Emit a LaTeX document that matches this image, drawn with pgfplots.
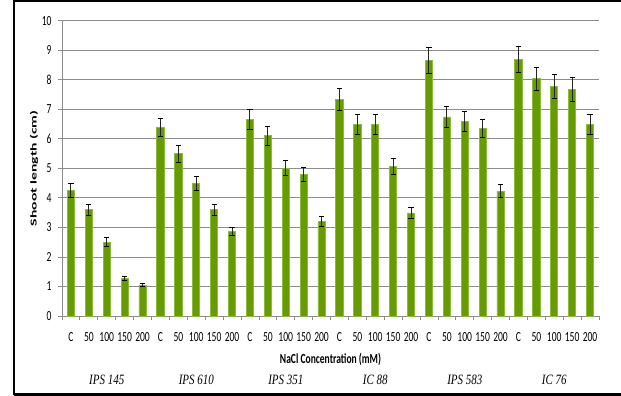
\documentclass[border=0pt]{standalone}
\usepackage{fontspec}
\setmainfont{Carlito}
\newfontfamily\genofont{Liberation Serif}
\usepackage{graphicx}
\usepackage{pgfplots}
\pgfplotsset{compat=1.18}
\usepackage{pgfplotstable}

\definecolor{gridgray}{RGB}{140,140,140}
\definecolor{barmid}{RGB}{103,155,2}
\definecolor{baredge}{RGB}{140,186,60}

% labels are set tall and narrow
\newcommand\tall[1]{\scalebox{1}[1.45]{#1}}

% shoot length (cm) and its error, one row per genotype x NaCl level
\pgfplotstableread{
x y e
0 4.25 0.23
1 3.60 0.19
2 2.50 0.15
3 1.27 0.08
4 1.05 0.06
5 6.39 0.31
6 5.49 0.29
7 4.50 0.24
8 3.60 0.18
9 2.85 0.14
10 6.65 0.33
11 6.10 0.32
12 5.00 0.25
13 4.78 0.24
14 3.19 0.17
15 7.33 0.37
16 6.48 0.33
17 6.48 0.33
18 5.07 0.27
19 3.49 0.19
20 8.66 0.44
21 6.74 0.34
22 6.59 0.33
23 6.36 0.31
24 4.23 0.22
25 8.68 0.44
26 8.03 0.40
27 7.78 0.40
28 7.67 0.39
29 6.48 0.33
}\shoot

\begin{document}
\begin{tikzpicture}
\path[use as bounding box] (-62bp,-80bp) rectangle (559bp,316bp);
\begin{axis}[
  at={(0,0)}, anchor=south west,
  scale only axis, width=537bp, height=295.3bp,
  xmin=-0.5, xmax=29.5, ymin=0, ymax=10,
  clip=false,
  axis x line*=bottom, axis y line*=left,
  axis line style={gridgray, line width=0.8bp},
  every tick/.style={gridgray, line width=0.8bp},
  tick align=outside, major tick length=4bp,
  ytick={0,...,10},
  ymajorgrids, grid style={gridgray, line width=0.8bp},
  xtick={-0.5,0.5,...,29.5},
  xticklabels={
    \tall{C},\tall{50},\tall{100},\tall{150},\tall{200},
    \tall{C},\tall{50},\tall{100},\tall{150},\tall{200},
    \tall{C},\tall{50},\tall{100},\tall{150},\tall{200},
    \tall{C},\tall{50},\tall{100},\tall{150},\tall{200},
    \tall{C},\tall{50},\tall{100},\tall{150},\tall{200},
    \tall{C},\tall{50},\tall{100},\tall{150},\tall{200},{}},
  xticklabel style={font=\fontsize{9.6}{10}\selectfont, xshift=8.95bp, yshift=-9bp},
  /pgf/number format/assume math mode=true,
  yticklabel={\tall{\pgfmathprintnumber{\tick}}},
  yticklabel style={font=\fontsize{9.6}{10}\selectfont, xshift=-3bp},
  ylabel={\scalebox{1.75}[1]{\bfseries Shoot length (cm)}},
  ylabel style={at={(axis description cs:-0.052,0.5)}, anchor=center,
                font=\fontsize{9}{10}\selectfont},
  xlabel={\tall{\bfseries NaCl Concentration (mM)}},
  xlabel style={at={(axis description cs:0.5,0)}, anchor=center, yshift=-43bp,
                font=\fontsize{9.6}{10}\selectfont},
]
\addplot[ybar, bar width=7.2bp, fill=barmid, draw=baredge, line width=0.8bp]
  table[x=x, y=y] {\shoot};
\addplot[draw=none, mark=none,
         error bars/.cd, y dir=both, y explicit,
         error bar style={black!85, line width=1bp},
         error mark options={rotate=90, mark size=2.6bp, black, line width=1bp}]
  table[x=x, y=y, y error=e] {\shoot};

\foreach \g/\name in {2/IPS 145, 7/IPS 610, 12/IPS 351, 17/IC 88, 22/IPS 583, 27/IC 76}{
  \edef\temp{\noexpand\node[font=\noexpand\genofont\noexpand\itshape\noexpand\fontsize{11}{12}\noexpand\selectfont, anchor=center, yshift=-64bp]
    at (axis cs:\g,0) {\noexpand\scalebox{1}[1.3]{\name}};}
  \temp
}
\end{axis}
\draw[line width=2.4bp] (-48bp,-78.5bp) -- (-48bp,315bp) -- (575bp,315bp);
\draw[line width=2.4bp] (-48bp,-78.5bp) -- (575bp,-78.5bp);
\end{tikzpicture}
\end{document}
